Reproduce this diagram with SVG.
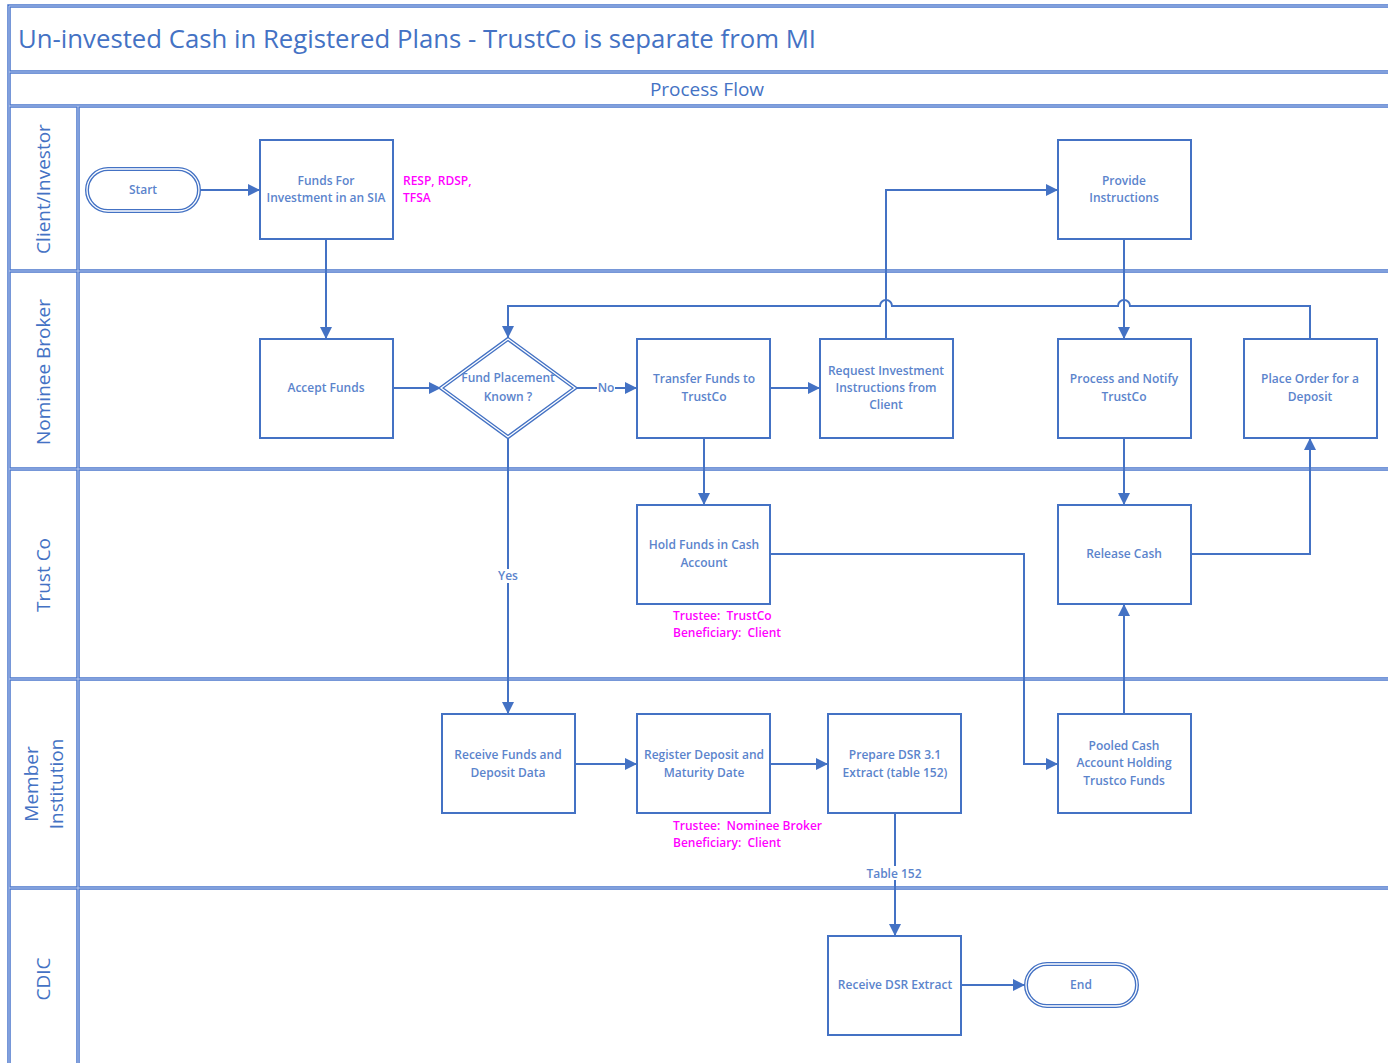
<svg xmlns="http://www.w3.org/2000/svg" width="1388" height="1063" viewBox="0 0 1388 1063">
<style>
  .lane { fill: none; stroke: #4a76cc; stroke-width: 3.5; }
  .laneIn { fill: none; stroke: #c5d4f1; stroke-width: 0.9; }
  .box { fill: #ffffff; stroke: #4472c4; stroke-width: 2; }
  .dblO { fill: #ffffff; stroke: #4472c4; stroke-width: 4; }
  .dblI { fill: none; stroke: #ffffff; stroke-width: 1.3; }
  .t { font-family: "Open Sans", "Noto Sans", sans-serif; font-size: 12px; font-weight: 600; fill: #5b84cc; text-anchor: middle; }
  .m { font-family: "Open Sans", "Noto Sans", sans-serif; font-size: 12px; font-weight: 600; fill: #ff00ff; white-space: pre; }
  .lt { font-family: "Open Sans", "Noto Sans", sans-serif; font-size: 19px; fill: #4472c4; text-anchor: middle; }
  .c { fill: none; stroke: #4472c4; stroke-width: 2; }
  .lbl { font-family: "Open Sans", "Noto Sans", sans-serif; font-size: 12px; font-weight: 600; fill: #5b84cc; text-anchor: middle; }
</style>
<defs>
  <marker id="arr" viewBox="0 0 12 12" refX="12" refY="6" markerWidth="12" markerHeight="12" markerUnits="userSpaceOnUse" orient="auto">
    <path d="M0,0 L12,6 L0,12 Z" fill="#4472c4"/>
  </marker>
</defs>
<rect width="1388" height="1063" fill="#ffffff"/>

<g id="frame">
  <path class="lane" d="M1388,6 H9 V1063 M9,72 H1388 M9,106 H1388 M78,106 V1063 M9,271 H1388 M9,469 H1388 M9,679 H1388 M9,888 H1388"/>
  <path class="laneIn" d="M1388,6 H9 V1063 M9,72 H1388 M9,106 H1388 M78,106 V1063 M9,271 H1388 M9,469 H1388 M9,679 H1388 M9,888 H1388"/>
  <text x="18" y="48" font-family="Open Sans, Noto Sans, sans-serif" font-size="25" fill="#4472c4" textLength="798" lengthAdjust="spacingAndGlyphs">Un-invested Cash in Registered Plans - TrustCo is separate from MI</text>
  <text x="707" y="96" class="lt" font-size="18">Process Flow</text>
</g>

<g id="lane-client"><text class="lt" transform="translate(50,189) rotate(-90)">Client/Investor</text></g>
<g id="lane-nominee"><text class="lt" transform="translate(50,372) rotate(-90)">Nominee Broker</text></g>
<g id="lane-trustco"><text class="lt" transform="translate(50,575) rotate(-90)">Trust Co</text></g>
<g id="lane-member"><text class="lt" transform="translate(38,784) rotate(-90)">Member</text><text class="lt" transform="translate(63,784) rotate(-90)">Institution</text></g>
<g id="lane-cdic"><text class="lt" transform="translate(50,979) rotate(-90)">CDIC</text></g>

<g id="connectors">
  <path class="c" d="M200,190 H260" marker-end="url(#arr)"/>
  <path class="c" d="M326,239 V339" marker-end="url(#arr)"/>
  <path class="c" d="M393,388 H441" marker-end="url(#arr)"/>
  <path class="c" d="M575,388 H637" marker-end="url(#arr)"/>
  <path class="c" d="M770,388 H820" marker-end="url(#arr)"/>
  <path class="c" d="M886,339 V190 H1058" marker-end="url(#arr)"/>
  <path class="c" d="M1124,239 V339" marker-end="url(#arr)"/>
  <path class="c" d="M1310,339 V306 H1130 A6,6 0 0 0 1118,306 H892 A6,6 0 0 0 880,306 H508 V338" marker-end="url(#arr)"/>
  <path class="c" d="M508,438 V714" marker-end="url(#arr)"/>
  <path class="c" d="M704,438 V505" marker-end="url(#arr)"/>
  <path class="c" d="M770,554 H1024 V764 H1058" marker-end="url(#arr)"/>
  <path class="c" d="M1124,438 V505" marker-end="url(#arr)"/>
  <path class="c" d="M1124,714 V604" marker-end="url(#arr)"/>
  <path class="c" d="M1191,554 H1310 V438" marker-end="url(#arr)"/>
  <path class="c" d="M575,764 H637" marker-end="url(#arr)"/>
  <path class="c" d="M770,764 H828" marker-end="url(#arr)"/>
  <path class="c" d="M895,813 V936" marker-end="url(#arr)"/>
  <path class="c" d="M961,985 H1025" marker-end="url(#arr)"/>
  <rect x="597" y="381" width="18" height="14" fill="#ffffff"/>
  <text class="lbl" x="606" y="392">No</text>
  <rect x="496" y="569" width="24" height="14" fill="#ffffff"/>
  <text class="lbl" x="508" y="580">Yes</text>
  <rect x="864" y="866" width="62" height="14" fill="#ffffff"/>
  <text class="lbl" x="894" y="878">Table 152</text>
</g>

<g id="start">
  <rect class="dblO" x="87" y="169" width="112" height="42" rx="21"/>
  <rect class="dblI" x="87" y="169" width="112" height="42" rx="21"/>
  <text class="t" x="143" y="194">Start</text>
</g>
<g id="funds-for-investment">
  <rect class="box" x="260" y="140" width="133" height="99"/>
  <text class="t" x="326" y="185">Funds For</text>
  <text class="t" x="326" y="202">Investment in an SIA</text>
</g>
<g id="note-plans">
  <text class="m" x="403" y="185">RESP, RDSP,</text>
  <text class="m" x="403" y="202">TFSA</text>
</g>
<g id="accept-funds">
  <rect class="box" x="260" y="339" width="133" height="99"/>
  <text class="t" x="326" y="392">Accept Funds</text>
</g>
<g id="fund-placement-known">
  <path class="dblO" d="M508,339 L575,388 L508,437 L441,388 Z"/>
  <path class="dblI" d="M508,339 L575,388 L508,437 L441,388 Z"/>
  <text class="t" x="508" y="382">Fund Placement</text>
  <text class="t" x="508" y="401">Known ?</text>
</g>
<g id="transfer-funds">
  <rect class="box" x="637" y="339" width="133" height="99"/>
  <text class="t" x="704" y="383">Transfer Funds to</text>
  <text class="t" x="704" y="401">TrustCo</text>
</g>
<g id="request-instructions">
  <rect class="box" x="820" y="339" width="133" height="99"/>
  <text class="t" x="886" y="375">Request Investment</text>
  <text class="t" x="886" y="392">Instructions from</text>
  <text class="t" x="886" y="409">Client</text>
</g>
<g id="provide-instructions">
  <rect class="box" x="1058" y="140" width="133" height="99"/>
  <text class="t" x="1124" y="185">Provide</text>
  <text class="t" x="1124" y="202">Instructions</text>
</g>
<g id="process-notify">
  <rect class="box" x="1058" y="339" width="133" height="99"/>
  <text class="t" x="1124" y="383">Process and Notify</text>
  <text class="t" x="1124" y="401">TrustCo</text>
</g>
<g id="place-order">
  <rect class="box" x="1244" y="339" width="133" height="99"/>
  <text class="t" x="1310" y="383">Place Order for a</text>
  <text class="t" x="1310" y="401">Deposit</text>
</g>
<g id="hold-funds">
  <rect class="box" x="637" y="505" width="133" height="99"/>
  <text class="t" x="704" y="549">Hold Funds in Cash</text>
  <text class="t" x="704" y="567">Account</text>
</g>
<g id="note-trustco">
  <text class="m" x="673" y="620">Trustee:  TrustCo</text>
  <text class="m" x="673" y="637">Beneficiary:  Client</text>
</g>
<g id="release-cash">
  <rect class="box" x="1058" y="505" width="133" height="99"/>
  <text class="t" x="1124" y="558">Release Cash</text>
</g>
<g id="receive-funds">
  <rect class="box" x="442" y="714" width="133" height="99"/>
  <text class="t" x="508" y="759">Receive Funds and</text>
  <text class="t" x="508" y="777">Deposit Data</text>
</g>
<g id="register-deposit">
  <rect class="box" x="637" y="714" width="133" height="99"/>
  <text class="t" x="704" y="759">Register Deposit and</text>
  <text class="t" x="704" y="777">Maturity Date</text>
</g>
<g id="note-nominee">
  <text class="m" x="673" y="830">Trustee:  Nominee Broker</text>
  <text class="m" x="673" y="847">Beneficiary:  Client</text>
</g>
<g id="prepare-dsr">
  <rect class="box" x="828" y="714" width="133" height="99"/>
  <text class="t" x="895" y="759">Prepare DSR 3.1</text>
  <text class="t" x="895" y="777">Extract (table 152)</text>
</g>
<g id="pooled-cash">
  <rect class="box" x="1058" y="714" width="133" height="99"/>
  <text class="t" x="1124" y="750">Pooled Cash</text>
  <text class="t" x="1124" y="767">Account Holding</text>
  <text class="t" x="1124" y="785">Trustco Funds</text>
</g>
<g id="receive-dsr">
  <rect class="box" x="828" y="936" width="133" height="99"/>
  <text class="t" x="895" y="989">Receive DSR Extract</text>
</g>
<g id="end">
  <rect class="dblO" x="1026" y="964" width="111" height="42" rx="21"/>
  <rect class="dblI" x="1026" y="964" width="111" height="42" rx="21"/>
  <text class="t" x="1081" y="989">End</text>
</g>
</svg>
